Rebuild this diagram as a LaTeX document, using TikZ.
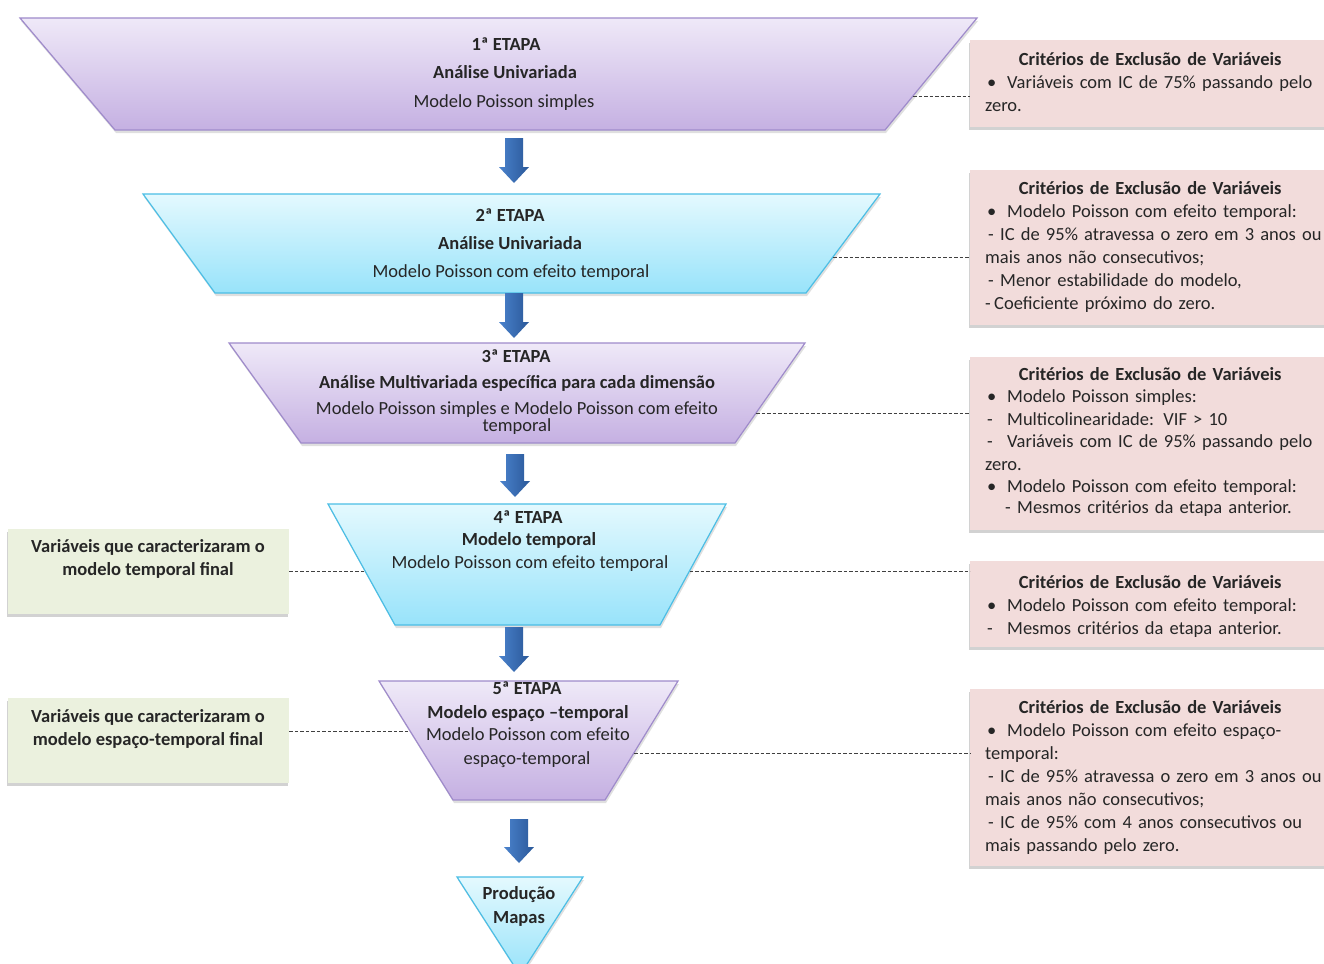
\documentclass[tikz,border=0pt]{standalone}
\usepackage{fontspec}
\setmainfont{Carlito}
\usetikzlibrary{shadows}
\definecolor{pTop}{HTML}{EFE9F8}
\definecolor{pBot}{HTML}{C5B0E2}
\definecolor{pEdge}{HTML}{9F8BCB}
\definecolor{cTop}{HTML}{E4F9FE}
\definecolor{cBot}{HTML}{98E3FA}
\definecolor{cEdge}{HTML}{4BBEE5}
\definecolor{pinkc}{HTML}{F2DCDB}
\definecolor{greenc}{HTML}{EBF1DE}
\definecolor{arrL}{HTML}{4A82CC}
\definecolor{arrR}{HTML}{2A5899}
\definecolor{textc}{HTML}{262626}
\definecolor{dashc}{HTML}{404040}
\newcommand\bul{\makebox[22pt][l]{\hspace{2pt}•}}
\newcommand\dsh{\makebox[22pt][l]{\hspace{2pt}-}}
\newcommand\sdsh{\makebox[15pt][l]{\hspace{3pt}-}}
\newcommand\blockarrowdown[3]{%
  \shade[left color=arrL, right color=arrR]
    (#1-9,#2) -- (#1+9,#2) -- (#1+9,#3-16) -- (#1+15,#3-16) -- (#1,#3)
    -- (#1-15,#3-16) -- (#1-9,#3-16) -- cycle;}
\begin{document}
\begin{tikzpicture}[x=1pt,y=-1pt,
  txt/.style={font=\fontsize{18.5}{22.5}\selectfont, text=textc, inner sep=0pt, anchor=mid, yshift=-4pt},
  bt/.style={txt, font=\fontsize{18.5}{22.5}\selectfont\bfseries},
  trapP/.style={top color=pTop, bottom color=pBot, draw=pEdge, line width=1.2pt,
    drop shadow={shadow xshift=1pt, shadow yshift=-3pt, opacity=0.25}},
  trapC/.style={top color=cTop, bottom color=cBot, draw=cEdge, line width=1.2pt,
    drop shadow={shadow xshift=1pt, shadow yshift=-3pt, opacity=0.25}},
  crit/.style={fill=pinkc, anchor=north west, inner sep=0pt, minimum width=356pt,
    drop shadow={shadow xshift=-1pt, shadow yshift=-3pt, opacity=0.35}},
  varbox/.style={fill=greenc, anchor=north west, inner sep=0pt, minimum width=281pt, minimum height=85pt,
    drop shadow={shadow xshift=-1pt, shadow yshift=-3pt, opacity=0.35}},
  crittext/.style={font=\fontsize{18.5}{23}\selectfont, text=textc, inner sep=0pt,
    anchor=north west, text width=330pt, align=left,
    execute at begin node={\setlength{\parindent}{0pt}}},
  vartext/.style={font=\fontsize{18.5}{22.5}\selectfont\bfseries, text=textc, inner sep=0pt,
    anchor=north, align=center},
  link/.style={dashc, dash pattern=on 3.5pt off 2pt, line width=0.8pt}
]
\useasboundingbox (0,0) rectangle (1324,963);
\fill[white] (0,0) rectangle (1324,963);

% ---------- trapezoids ----------
\path[trapP] (20,18) -- (977,18) -- (885,130) -- (115,130) -- cycle;
\path[trapC] (143,194) -- (880,194) -- (806,293) -- (215,293) -- cycle;
\path[trapP] (229,343) -- (805,343) -- (735,443) -- (301,443) -- cycle;
\path[trapC] (328,504) -- (726,504) -- (660,625) -- (395,625) -- cycle;
\path[trapP] (379,681) -- (678,681) -- (605,800) -- (453,800) -- cycle;
\path[trapC] (457,877) -- (583,877) -- (520,975) -- cycle;

% edge points for connectors
\coordinate (e1) at (913,96);
\coordinate (e2) at (833,257);
\coordinate (e3) at (756,413);
\coordinate (e4r) at (689.5,571);
\coordinate (e4l) at (365,571);
\coordinate (e5r) at (634,753);
\coordinate (e5l) at (410,731);

% ---------- block arrows ----------
\blockarrowdown{514}{138}{183}
\blockarrowdown{514}{293}{338}
\blockarrowdown{515}{454}{497}
\blockarrowdown{514}{627}{672}
\blockarrowdown{519}{819}{863}

% ---------- trapezoid texts ----------
\node[bt]  (s1a) at (506,44)  {1ª ETAPA};
\node[bt]  (s1b) at (505,72)  {Análise Univariada};
\node[txt] (s1c) at (504,101) {Modelo Poisson simples};

\node[bt]  (s2a) at (510,215) {2ª ETAPA};
\node[bt]  (s2b) at (510,243) {Análise Univariada};
\node[txt] (s2c) at (511,271) {Modelo Poisson com efeito temporal};

\node[bt]  (s3a) at (516,356) {3ª ETAPA};
\node[bt]  (s3b) at (517,382) {Análise Multivariada específica para cada dimensão};
\node[txt, anchor=north, yshift=0pt, align=center, font=\fontsize{18.5}{15.5}\selectfont]
  (s3c) at (517,397.5) {Modelo Poisson simples e Modelo Poisson com efeito\\temporal};

\node[bt]  (s4a) at (528,517) {4ª ETAPA};
\node[bt]  (s4b) at (529,539) {Modelo temporal};
\node[txt] (s4c) at (530,562) {Modelo Poisson com efeito temporal};

\node[bt]  (s5a) at (527,688) {5ª ETAPA};
\node[bt]  (s5b) at (528,712) {Modelo espaço –temporal};
\node[txt] (s5c) at (528,734) {Modelo Poisson com efeito};
\node[txt] (s5d) at (527,758) {espaço-temporal};

\node[bt]  (s6a) at (519,893) {Produção};
\node[bt]  (s6b) at (519,917) {Mapas};

% ---------- criteria boxes ----------
\node[crit, minimum height=87pt]  (c1) at (970,40)  {};
\node[crit, minimum height=155pt] (c2) at (970,170) {};
\node[crit, minimum height=173pt] (c3) at (970,357) {};
\node[crit, minimum height=86pt]  (c4) at (970,561) {};
\node[crit, minimum height=177pt] (c5) at (970,689) {};

\node[crittext] (c1t) at (985,49.5) {{\centering\bfseries\strut Critérios de Exclusão de Variáveis\par}%
\mbox{\bul Variáveis com IC de 75\% passando pelo}\\
zero.};

\node[crittext] (c2t) at (985,178) {{\centering\bfseries\strut Critérios de Exclusão de Variáveis\par}%
\mbox{\bul Modelo Poisson com efeito temporal:}\\
\mbox{\sdsh IC de 95\% atravessa o zero em 3 anos ou}\\
\mbox{mais anos não consecutivos;}\\
\mbox{\sdsh Menor estabilidade do modelo,}\\
\mbox{\makebox[9pt][l]{-}Coeficiente próximo do zero.}};

\node[crittext, font=\fontsize{18.5}{22.5}\selectfont] (c3t) at (985,364.5) {{\centering\bfseries\strut Critérios de Exclusão de Variáveis\par}%
\mbox{\bul Modelo Poisson simples:}\\
\mbox{\dsh Multicolinearidade: VIF > 10}\\
\mbox{\dsh Variáveis com IC de 95\% passando pelo}\\
\mbox{zero.}\\
\mbox{\bul Modelo Poisson com efeito temporal:}\\[-1.5pt]
\mbox{\hspace*{20pt}\makebox[12pt][l]{-}Mesmos critérios da etapa anterior.}};

\node[crittext] (c4t) at (985,572.5) {{\centering\bfseries\strut Critérios de Exclusão de Variáveis\par}%
\mbox{\bul Modelo Poisson com efeito temporal:}\\
\mbox{\dsh Mesmos critérios da etapa anterior.}};

\node[crittext] (c5t) at (985,697) {{\centering\bfseries\strut Critérios de Exclusão de Variáveis\par}%
\mbox{\bul Modelo Poisson com efeito espaço-}\\
\mbox{temporal:}\\
\mbox{\sdsh IC de 95\% atravessa o zero em 3 anos ou}\\
\mbox{mais anos não consecutivos;}\\
\mbox{\sdsh IC de 95\% com 4 anos consecutivos ou}\\
\mbox{mais passando pelo zero.}};

% ---------- variable boxes ----------
\node[varbox] (l1) at (8,529) {};
\node[varbox] (l2) at (8,698) {};
\node[vartext] (l1t) at (148,536.7) {\strut Variáveis que caracterizaram o\\modelo temporal final};
\node[vartext] (l2t) at (148,706.7) {\strut Variáveis que caracterizaram o\\modelo espaço-temporal final};

% ---------- dashed connectors ----------
\draw[link] (e1) -- (e1 -| c1.west);
\draw[link] (e2) -- (e2 -| c2.west);
\draw[link] (e3) -- (e3 -| c3.west);
\draw[link] (e4r) -- (e4r -| c4.west);
\draw[link] (e4l -| l1.east) -- (e4l);
\draw[link] (e5r) -- (e5r -| c5.west);
\draw[link] (e5l -| l2.east) -- (e5l);
\end{tikzpicture}
\end{document}
